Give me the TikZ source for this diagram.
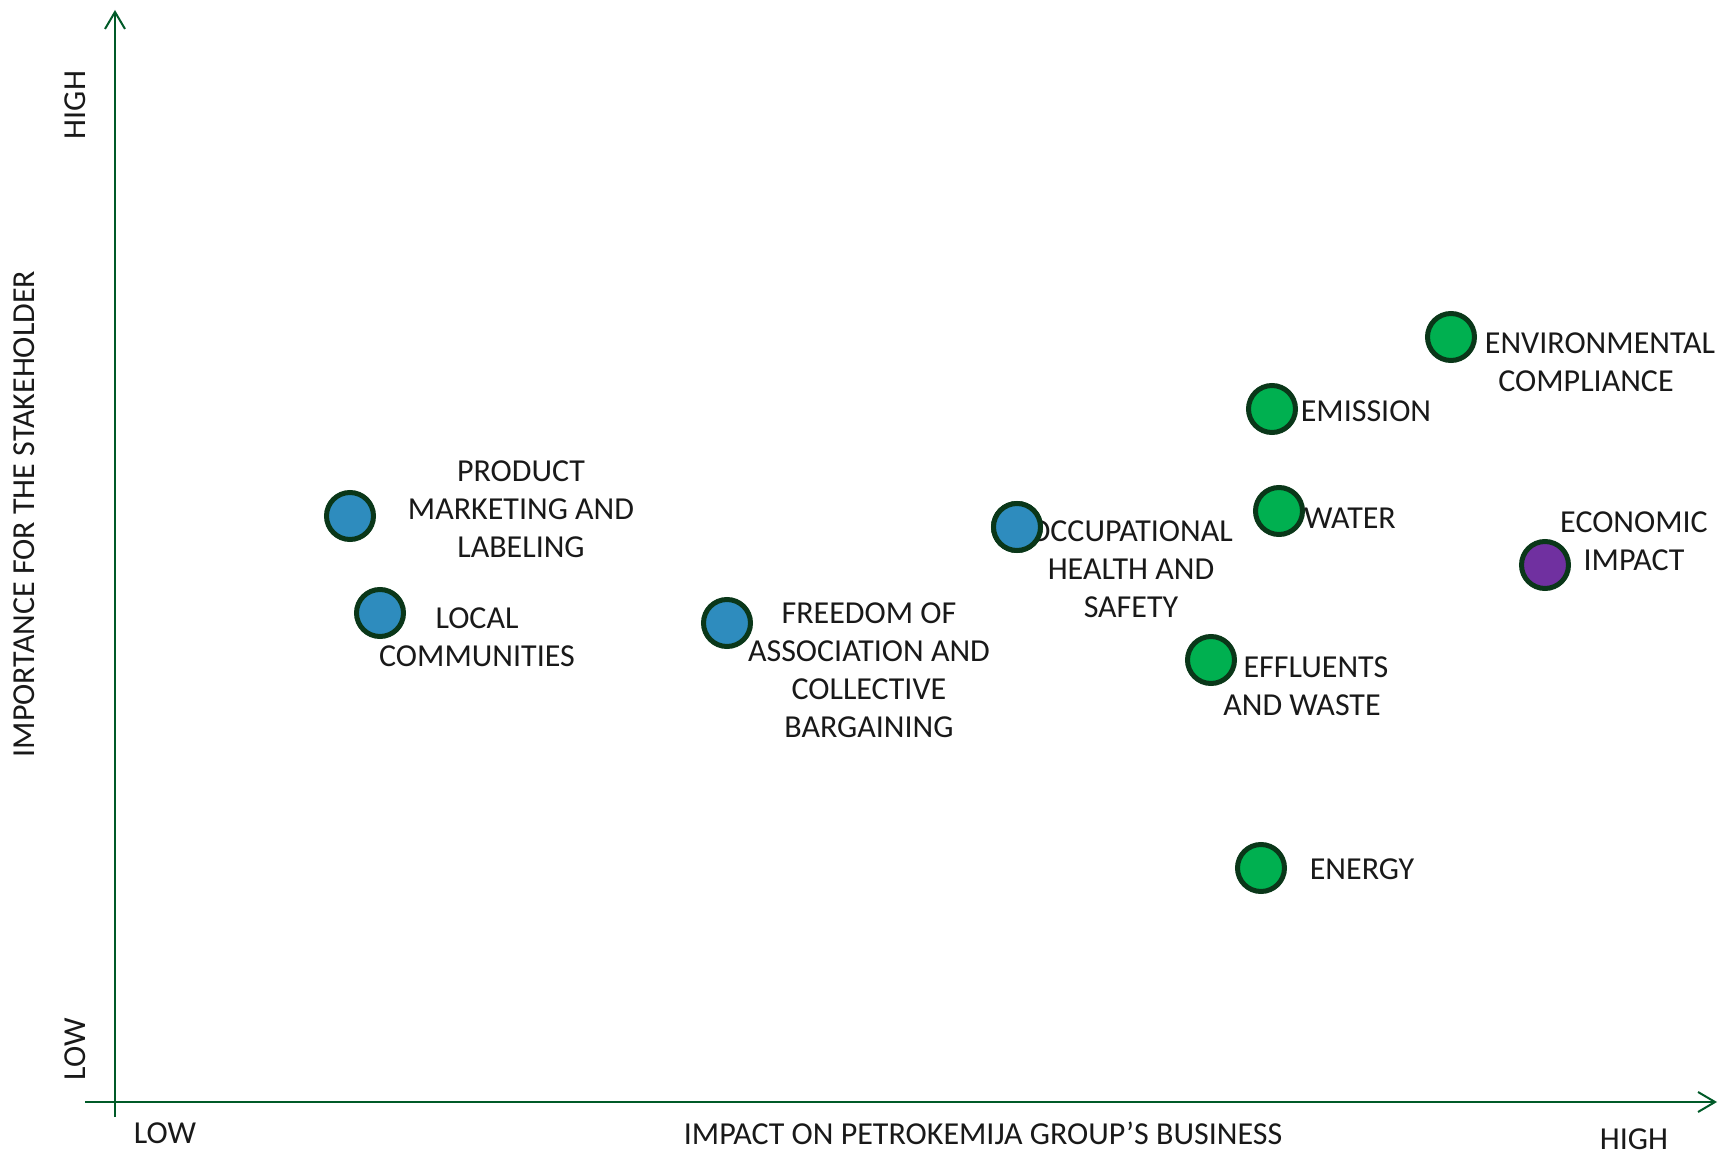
\documentclass[tikz,border=0pt]{standalone}
\usepackage{fontspec}
\setmainfont{Carlito}
\usetikzlibrary{arrows.meta}
\definecolor{axisgreen}{RGB}{0,90,40}
\definecolor{ringgreen}{RGB}{10,55,25}
\definecolor{dotblue}{RGB}{46,140,190}
\definecolor{dotgreen}{RGB}{0,176,80}
\definecolor{dotpurple}{RGB}{112,48,160}
\definecolor{txt}{RGB}{25,25,25}
\tikzset{
  axis/.style={draw=axisgreen, line width=1pt, -{Straight Barb[length=8.5pt,width=10pt,line width=1pt]}},
  dot/.style={circle, draw=ringgreen, line width=2.5pt, minimum size=23.5pt, inner sep=0pt},
  bluedot/.style={dot, fill=dotblue},
  greendot/.style={dot, fill=dotgreen},
  purpledot/.style={dot, fill=dotpurple},
  lbl/.style={text=txt, font=\fontsize{16pt}{19pt}\selectfont, align=center, inner sep=0pt},
}
\begin{document}
\begin{tikzpicture}[x=0.5pt,y=-0.5pt]
\useasboundingbox (0,0) rectangle (1721,1155);
% axes
\coordinate (yb) at (115,1117);
\coordinate (yt) at (115,10);
\coordinate (xl) at (85,1102);
\coordinate (xr) at (1717,1102);
\draw[axis] (yb) -- (yt);
\draw[axis] (xl) -- (xr);
% axis labels
\node[lbl, rotate=90] (yhigh) at (75,105) {HIGH};
\node[lbl, rotate=90] (ylow) at (75,1049) {LOW};
\node[lbl, rotate=90] (ytitle) at (24,514) {IMPORTANCE FOR THE STAKEHOLDER};
\node[lbl] (xlow) at (165,1133) {LOW};
\node[lbl] (xtitle) at (983,1133) {IMPACT ON PETROKEMIJA GROUP’S BUSINESS};
\node[lbl] (xhigh) at (1634,1139) {HIGH};
% dots
\node[bluedot] (prod) at (350,516) {};
\node[bluedot] (local) at (380,613) {};
\node[bluedot] (free) at (727,623) {};
\node[bluedot] (occ) at (1017,527) {};
\node[greendot] (emis) at (1272,409) {};
\node[greendot] (water) at (1279,511) {};
\node[greendot] (effl) at (1211,660) {};
\node[greendot] (energy) at (1261,868) {};
\node[greendot] (env) at (1451,337) {};
\node[purpledot] (econ) at (1545,565) {};
% labels
\node[lbl] (tprod) at (521,509) {PRODUCT\\MARKETING AND\\LABELING};
\node[lbl] (tlocal) at (477,637) {LOCAL\\COMMUNITIES};
\node[lbl] (tfree) at (869,670) {FREEDOM OF\\ASSOCIATION AND\\COLLECTIVE\\BARGAINING};
\node[lbl] (tocc) at (1131,569) {OCCUPATIONAL\\HEALTH AND\\SAFETY};
\node[lbl] (temis) at (1366,411) {EMISSION};
\node[lbl] (twater) at (1350,518) {WATER};
\node[lbl] (teffla) at (1316,667) {EFFLUENTS};
\node[lbl] (tefflb) at (1302,705) {AND WASTE};
\node[lbl] (tenergy) at (1362,869) {ENERGY};
\node[lbl] (tenva) at (1600,343) {ENVIRONMENTAL};
\node[lbl] (tenvb) at (1586,381) {COMPLIANCE};
\node[lbl] (tecon) at (1634,541) {ECONOMIC\\IMPACT};
% redraw occupational dot over its label
\node[bluedot] at (occ) {};
\end{tikzpicture}
\end{document}
